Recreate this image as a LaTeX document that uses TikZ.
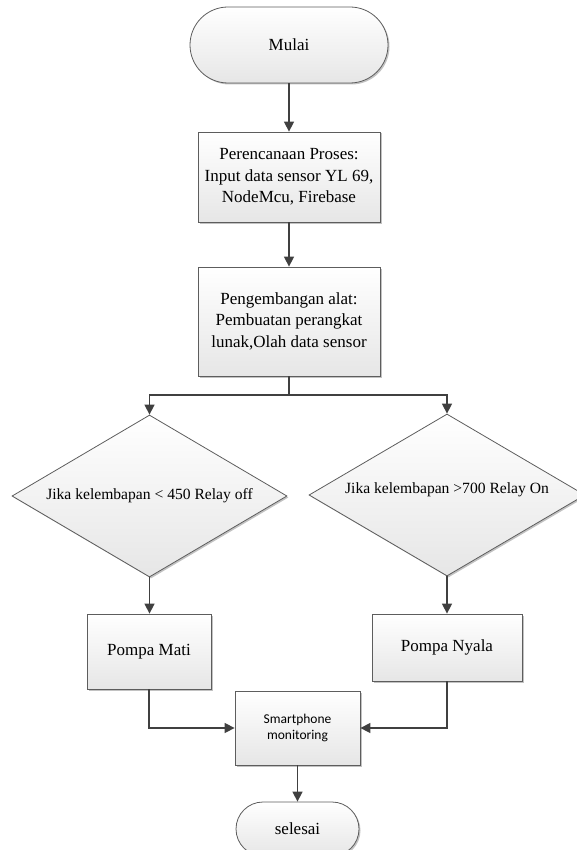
\documentclass[tikz,border=0pt]{standalone}
\usepackage{fontspec}
\setmainfont{Liberation Serif}
\newfontfamily\calfont{Carlito}
\usetikzlibrary{shapes.geometric,arrows.meta,shadows}
\definecolor{linegray}{HTML}{404040}
\definecolor{boxbottom}{HTML}{E6E6E6}

\tikzset{
  boxbase/.style={draw=linegray!85, line width=0.8pt, top color=white, bottom color=boxbottom,
    drop shadow={shadow xshift=1.5pt, shadow yshift=-1.5pt, fill=black!40, opacity=0.6},
    align=center, inner sep=0pt, font=\fontsize{17}{21.5}\selectfont},
  terminal/.style={boxbase, rectangle, rounded corners=#1},
  procbox/.style={boxbase, rectangle},
  decision/.style={boxbase, diamond, aspect=1.7, font=\fontsize{15.6}{19}\selectfont},
  flowline/.style={draw=linegray, line width=1.5pt},
  flowarrow/.style={flowline, -{Triangle[length=10pt,width=10pt]}}
}

\begin{document}
\begin{tikzpicture}[x=1pt,y=-1pt]
        \useasboundingbox (0,0) rectangle (577,850);

        \node[terminal=38pt, minimum width=198pt, minimum height=76pt] (mulai) at (289,45) {Mulai};
        \node[procbox, minimum width=182pt, minimum height=90pt] (rencana) at (289,177)
            {Perencanaan Proses:\\Input data sensor YL 69,\\NodeMcu, Firebase};
        \node[procbox, minimum width=182pt, minimum height=109pt] (kembang) at (289,321.5)
            {\raisebox{11pt}{\begin{tabular}{@{}c@{}}Pengembangan alat:\\Pembuatan perangkat\\lunak,Olah data sensor\end{tabular}}};
        \coordinate (cabang) at (289,395);

        \node[decision, minimum width=275pt, minimum height=162pt] (kering) at (149.5,496)
            {Jika kelembapan < 450 Relay off};
        \node[decision, minimum width=276pt, minimum height=162pt] (basah) at (447,495)
            {\raisebox{14pt}{Jika kelembapan >700 Relay On}};

        \node[procbox, minimum width=124pt, minimum height=75pt] (mati) at (149,651.5) {Pompa Mati};
        \node[procbox, minimum width=150pt, minimum height=67pt] (nyala) at (447,647.5) {Pompa Nyala};
        \node[procbox, minimum width=125pt, minimum height=74pt,
            font=\calfont\fontsize{13.5}{16.5}\selectfont] (hp) at (297.5,728) {Smartphone\\monitoring};
        \node[terminal=27pt, minimum width=123pt, minimum height=54pt] (selesai) at (297.5,829) {selesai};

        \draw[flowarrow] (mulai) -- (rencana);
        \draw[flowarrow] (rencana) -- (kembang);
        \draw[flowline] (kembang) -- (cabang);
        \draw[flowarrow] (cabang) -| (kering.north);
        \draw[flowarrow] (cabang) -| (basah.north);
        \draw[flowarrow] (kering.south) -- (kering.south |- mati.north);
        \draw[flowarrow] (basah.south) -- (basah.south |- nyala.north);
        \draw[flowarrow] (mati) |- (hp);
        \draw[flowarrow] (nyala) |- (hp);
        \draw[flowarrow] (hp) -- (selesai);
    \end{tikzpicture}
\end{document}
